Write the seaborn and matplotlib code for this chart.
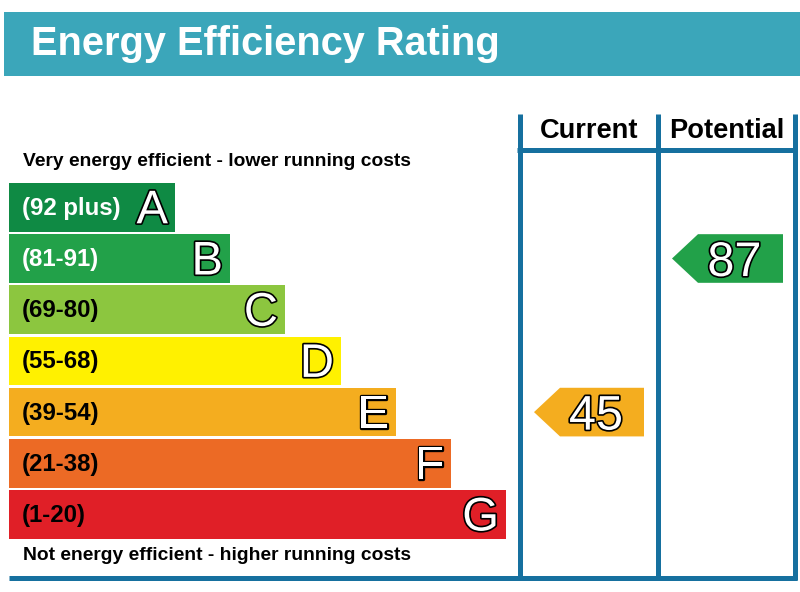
import matplotlib
matplotlib.use("Agg")
import matplotlib.pyplot as plt
import matplotlib.patheffects as pe
from matplotlib.patches import Rectangle, Polygon
import seaborn as sns
import pandas as pd

# DADOS
bands = ["A", "B", "C", "D", "E", "F", "G"]
ranges = ["(92 plus)", "(81-91)", "(69-80)", "(55-68)", "(39-54)", "(21-38)", "(1-20)"]
lower_bounds = [92, 81, 69, 55, 39, 21, 1]
band_length = [166, 221, 276, 332, 387, 442, 497]
band_colors = ["#0f8a44", "#22a149", "#8cc63f", "#fff100", "#f4ad1f", "#ec6a25", "#e01f27"]
current_rating = 45
potential_rating = 87

title = "Energy Efficiency Rating"
top_note = "Very energy efficient - lower running costs"
bottom_note = "Not energy efficient - higher running costs"
columns = ["Current", "Potential"]

# ESTILO
BANNER = "#3ba6ba"
LINE = "#16709f"
W, H = 800, 592
PITCH = 51.2
TOP = 181.7
plt.rcParams["font.family"] = ["Liberation Sans", "DejaVu Sans"]

df = pd.DataFrame({"band": bands, "length": band_length, "range": ranges})

fig = plt.figure(figsize=(W / 100, H / 100), dpi=100)
fig.patch.set_facecolor("white")

# eixo "tela" em pixels para moldura e textos
canvas = fig.add_axes([0, 0, 1, 1])
canvas.set_xlim(0, W)
canvas.set_ylim(H, 0)
canvas.axis("off")

canvas.add_patch(Rectangle((4, 12), W - 4, 63.5, color=BANNER, lw=0))
canvas.text(31, 55, title, color="white", fontsize=28.6, fontweight="bold", va="baseline")
canvas.text(23, 166.5, top_note, color="black", fontsize=13.9, fontweight="bold", va="baseline")
canvas.text(23, 560, bottom_note, color="black", fontsize=13.9, fontweight="bold", va="baseline")

col_x = [519.5, 657.5, 794.5]
for x in col_x:
    canvas.plot([x, x], [114, 580], color=LINE, lw=3.6, solid_capstyle="butt")
canvas.plot([517, 797], [150, 150], color=LINE, lw=3.6, solid_capstyle="butt")
canvas.plot([9, 797], [577.5, 577.5], color=LINE, lw=3.6, solid_capstyle="butt")
for name, a, b in zip(columns, col_x[:-1], col_x[1:]):
    canvas.text((a + b) / 2 + 0.5, 138, name, ha="center", va="baseline",
                fontsize=19.6, fontweight="bold", color="black")

# eixo das faixas (categorias A..G)
bar_h = TOP + PITCH * len(bands)
ax = fig.add_axes([0, 1 - bar_h / H, 1, PITCH * len(bands) / H])
sns.barplot(data=df, y="band", x="length", hue="band", palette=band_colors,
            order=bands, hue_order=bands, legend=False, width=0.95,
            errorbar=None, saturation=1, left=9, ax=ax, linewidth=0)
ax.set_xlim(0, W)
ax.set_ylim(len(bands) - 0.5, -0.5)
ax.axis("off")

stroke = [pe.withStroke(linewidth=2.4, foreground="black")]
for i, (b, r, L) in enumerate(zip(bands, ranges, band_length)):
    ax.text(22, i + 7.5 / PITCH, r, fontsize=17.3, fontweight="bold", va="baseline",
            color="white" if i < 2 else "black")
    ax.text(9 + L - 7, i + 16 / PITCH, b, fontsize=34, ha="right", va="baseline",
            color="white", path_effects=stroke)


def band_index(rating):
    return next(i for i, lb in enumerate(lower_bounds) if rating >= lb)


def arrow(rating, tip, right):
    i = band_index(rating)
    h = 0.475
    pts = [(tip, i), (tip + 26, i - h), (right, i - h), (right, i + h), (tip + 26, i + h)]
    ax.add_patch(Polygon(pts, closed=True, color=band_colors[i], lw=0))
    ax.text((tip + right) / 2 + 7, i + 17.5 / PITCH, str(rating), fontsize=35,
            ha="center", va="baseline", color="white", path_effects=stroke)


arrow(current_rating, 534, 644)
arrow(potential_rating, 672, 783)

fig.savefig("out.png", dpi=100)
